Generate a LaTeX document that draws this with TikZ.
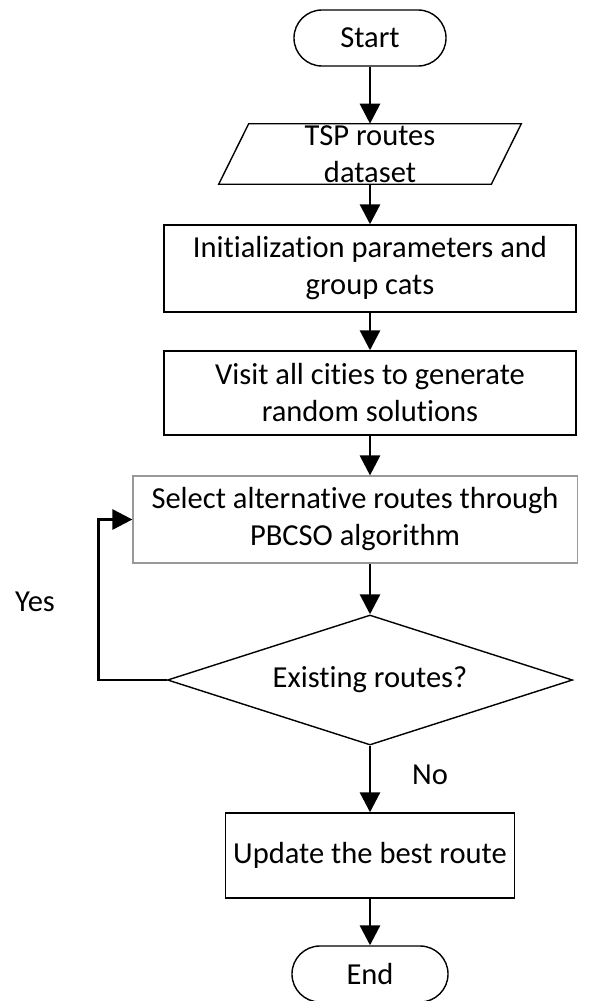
\documentclass[tikz,border=0pt]{standalone}
\usepackage{fontspec}
\setmainfont{Carlito}[Ligatures=NoCommon]
\usetikzlibrary{shapes.geometric,arrows.meta,calc}
\begin{document}
\begin{tikzpicture}[x=0.025cm,y=-0.025cm,
    font=\fontsize{21.7}{26.3}\selectfont,
    termbox/.style={draw,line width=1pt,rounded corners=0.7cm,minimum width=3.8cm,minimum height=1.4cm,inner sep=0pt},
    procbox/.style={draw,line width=1pt,align=center,inner sep=0pt,minimum height=2.15cm},
    decbox/.style={draw,line width=1pt,diamond,aspect=3.1,inner sep=0pt,minimum width=10.125cm,minimum height=3.25cm},
    flow/.style={-{Triangle[length=0.5cm,width=0.5cm]},line width=2.1pt}]
  \useasboundingbox (0,0) rectangle (610,1001);
  \node[termbox] (start) at (370,38) {Start};
  \node[minimum width=7.55cm,minimum height=1.5cm,inner sep=0pt] (data) at (370,154) {};
  \draw[line width=1pt] ($(data.north west)+(30,0)$) -- (data.north east)
    -- ($(data.south east)+(-30,0)$) -- (data.south west) -- cycle;
  \node[align=center,inner sep=0pt] (datatext) at (data.center) {TSP routes\\dataset};
  \node[procbox,minimum width=10.3cm,minimum height=2.175cm] (init) at (370,268.5) {Initialization parameters and\\group cats};
  \node[procbox,minimum width=10.3cm,minimum height=2.1cm] (visit) at (370,393) {Visit all cities to generate\\random solutions};
  \node[procbox,draw=gray!80,line width=0.8pt,minimum width=11.1cm,minimum height=2.175cm] (select) at (355,519.5) {Select alternative routes through\\PBCSO algorithm};
  \node[decbox] (exist) at (370,680) {Existing routes?};
  \node[procbox,minimum width=7.225cm,minimum height=2.125cm] (update) at (370,855.5) {Update the best route};
  \node[termbox,minimum width=3.9cm] (end) at (370,974) {End};
  \node (yes) at (35,602) {Yes};
  \node (no) at (430,775) {No};
  \begin{scope}[flow]
    \draw (start) -- (data);
    \draw (data) -- (init);
    \draw (init) -- (visit);
    \draw (visit.south) -- (visit.south |- select.north);
    \draw (select.south -| exist.north) -- (exist.north);
    \draw (exist.west) -- ++(-68,0) |- (select.west);
    \draw (exist) -- (update);
    \draw (update) -- (end);
  \end{scope}
\end{tikzpicture}
\end{document}
